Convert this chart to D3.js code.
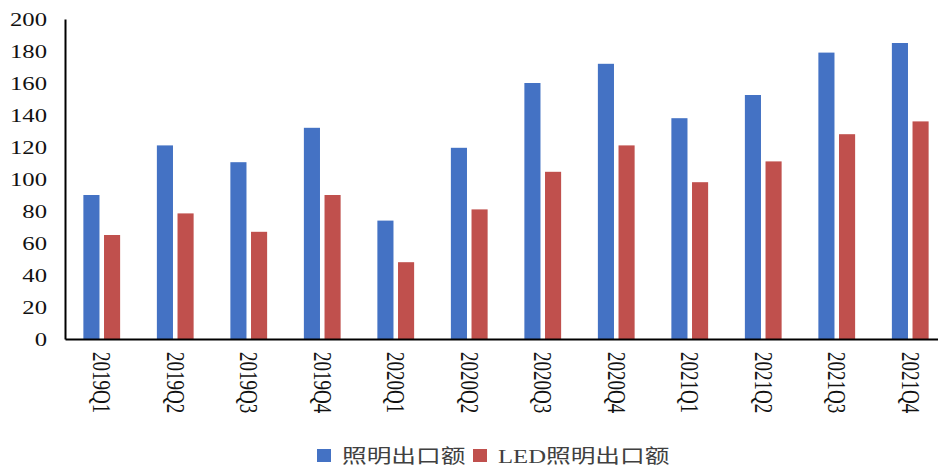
<!DOCTYPE html>
<html lang="zh">
<head>
    <meta charset="UTF-8">
    <title>照明出口额</title>
    <script src="https://d3js.org/d3.v7.min.js"></script>
    <style>
        body { margin: 0; background: #fff; }
        svg { display: block; }
        text { font-family: "Liberation Serif", "Noto Sans CJK SC", serif; }
    </style>
</head>
<body>
<svg width="938" height="468"></svg>
<script>
    // quarters and the two series
    const categories = ["2019Q1", "2019Q2", "2019Q3", "2019Q4", "2020Q1", "2020Q2",
                        "2020Q3", "2020Q4", "2021Q1", "2021Q2", "2021Q3", "2021Q4"];
    const lighting = [90, 121, 110.5, 132, 74, 119.5, 160, 172, 138, 152.5, 179, 185];
    const ledLighting = [65, 78.5, 67, 90, 48, 81, 104.5, 121, 98, 111, 128, 136];
    const seriesNames = ["照明出口额", "LED照明出口额"];
    const seriesColors = ["#4472C4", "#C0504D"];
    const yTicks = [0, 20, 40, 60, 80, 100, 120, 140, 160, 180, 200];

    const svg = d3.select("svg");
    const plotLeft = 65, plotRight = 947, plotTop = 19, plotBottom = 339;
    const stretch = 1.3; // the source image is drawn wider than tall

    const x0 = d3.scaleBand()
        .domain(categories)
        .range([plotLeft, plotRight])
        .paddingInner(0.5)
        .paddingOuter(0.25);

    const x1 = d3.scaleBand()
        .domain(seriesNames)
        .range([0, x0.bandwidth()])
        .paddingInner(0.22);

    const y = d3.scaleLinear()
        .domain([0, 200])
        .range([plotBottom, plotTop]);

    const rows = categories.map((c, i) => ({
        cat: c,
        values: [lighting[i], ledLighting[i]]
    }));

    // bars
    const groups = svg.append("g").selectAll("g")
        .data(rows)
        .join("g")
        .attr("transform", d => `translate(${x0(d.cat)},0)`);

    groups.selectAll("rect")
        .data(d => d.values.map((v, k) => ({ name: seriesNames[k], value: v, k: k })))
        .join("rect")
        .attr("x", d => x1(d.name))
        .attr("width", x1.bandwidth())
        .attr("y", d => y(d.value))
        .attr("height", d => y(0) - y(d.value))
        .attr("fill", d => seriesColors[d.k]);

    // y axis
    const yAxis = svg.append("g")
        .attr("transform", `translate(${plotLeft},0)`)
        .call(d3.axisLeft(y).tickValues(yTicks).tickSize(0).tickSizeOuter(0));
    yAxis.select(".domain").attr("stroke", "#000").attr("stroke-width", 2);
    yAxis.selectAll(".tick text")
        .attr("x", 0)
        .attr("dy", "0.35em")
        .attr("transform", `translate(-18,0) scale(${stretch},1)`)
        .attr("fill", "#111")
        .style("font-size", "19px")
        .style("font-family", "'Liberation Serif', serif");

    // x axis
    const xAxis = svg.append("g")
        .attr("transform", `translate(0,${plotBottom})`)
        .call(d3.axisBottom(x0).tickSize(0).tickSizeOuter(0));
    xAxis.select(".domain").attr("stroke", "#000").attr("stroke-width", 2);
    xAxis.selectAll(".tick text")
        .attr("x", 0)
        .attr("y", 0)
        .attr("dy", "0.35em")
        .attr("text-anchor", "start")
        .attr("transform", `translate(0,13) scale(${stretch},1) rotate(90)`)
        .attr("fill", "#111")
        .style("font-size", "19px")
        .style("font-family", "'Liberation Serif', serif");

    // legend
    const legend = svg.append("g").attr("transform", "translate(317,456)");
    const legendX = [0, 156];
    seriesNames.forEach((name, k) => {
        const item = legend.append("g").attr("transform", `translate(${legendX[k]},0)`);
        item.append("rect")
            .attr("x", 0).attr("y", -7)
            .attr("width", 14).attr("height", 13)
            .attr("fill", seriesColors[k]);
        item.append("text")
            .attr("transform", `translate(25,0) scale(${stretch},1)`)
            .attr("dy", "0.35em")
            .attr("fill", "#404040")
            .style("font-size", "19px")
            .text(name);
    });
</script>
</body>
</html>
